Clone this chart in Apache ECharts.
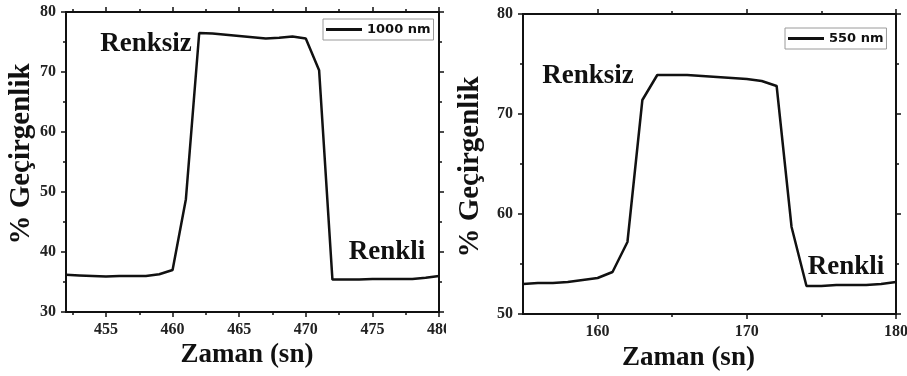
<!DOCTYPE html>
<html>
<head>
<meta charset="utf-8">
<script src="https://cdn.jsdelivr.net/npm/echarts@6/dist/echarts.min.js"></script>
<style>
  html, body { margin: 0; padding: 0; background: #fff; }
  #left  { position: absolute; left: 0;     top: 0; width: 446px; height: 376px; overflow: hidden; }
  #right { position: absolute; left: 446px; top: 0; width: 461px; height: 376px; overflow: hidden; }
</style>
</head>
<body>
<div id="left"></div>
<div id="right"></div>
<script>
// Switching response at 1000 nm
const timeA  = [452, 453, 454, 455, 456, 457, 458, 459, 460, 461, 462, 463, 464, 465, 466,
                467, 468, 469, 470, 471, 472, 473, 474, 475, 476, 477, 478, 479, 480];
const transA = [36.2, 36.1, 36.0, 35.9, 36.0, 36.0, 36.0, 36.3, 37.0, 48.8, 76.5, 76.4, 76.2, 76.0, 75.8,
                75.6, 75.7, 75.9, 75.6, 70.3, 35.4, 35.4, 35.4, 35.5, 35.5, 35.5, 35.5, 35.7, 36.0];
const xMajorA = [455, 460, 465, 470, 475, 480];
const xMinorA = [452.5, 457.5, 462.5, 467.5, 472.5, 477.5];

// Switching response at 550 nm
const timeB  = [155, 156, 157, 158, 159, 160, 161, 162, 163, 164, 165, 166, 167,
                168, 169, 170, 171, 172, 173, 174, 175, 176, 177, 178, 179, 180];
const transB = [53.0, 53.1, 53.1, 53.2, 53.4, 53.6, 54.2, 57.2, 71.4, 73.9, 73.9, 73.9, 73.8,
                73.7, 73.6, 73.5, 73.3, 72.8, 58.7, 52.8, 52.8, 52.9, 52.9, 52.9, 53.0, 53.2];
const xMajorB = [160, 170, 180];
const xMinorB = [165, 175];

const xTitle = 'Zaman (sn)';
const yTitle = '% Geçirgenlik';
const bleachedLabel = 'Renksiz';
const colouredLabel = 'Renkli';

const SERIF = "'Times New Roman', 'Liberation Serif', serif";
const SANS = "'DejaVu Sans', sans-serif";
const INK = '#111';

function buildOption(p) {
  const rect = {
    left: p.grid[0], top: p.grid[1], width: p.grid[2], height: p.grid[3],
    outerBoundsMode: 'none', containLabel: false
  };
  const axisLine = { show: true, onZero: false, lineStyle: { color: INK, width: 2 } };
  const tick = (len, values) => ({
    show: true, inside: false, length: len, customValues: values,
    lineStyle: { color: INK, width: 1.5 }
  });
  const tickLabel = { color: '#222', fontFamily: SERIF, fontWeight: 'bold', fontSize: 16 };
  const titleText = { color: INK, fontFamily: SERIF, fontWeight: 'bold', fontSize: 27 };
  const xBase = { type: 'value', min: p.xMin, max: p.xMax, splitLine: { show: false } };
  const yBase = { type: 'value', min: p.yMin, max: p.yMax, interval: 10, splitLine: { show: false } };
  const yTicks = {
    axisTick: { show: true, inside: false, length: 5, lineStyle: { color: INK, width: 1.5 } },
    minorTick: { show: true, splitNumber: 2, length: 3, lineStyle: { color: INK, width: 1.5 } }
  };

  return {
    animation: false,
    backgroundColor: '#fff',
    grid: [Object.assign({}, rect), Object.assign({}, rect)],
    xAxis: [
      Object.assign({}, xBase, {
        gridIndex: 0, position: 'bottom', axisLine,
        axisTick: tick(5, p.xMajor),
        axisLabel: Object.assign({ customValues: p.xMajor, margin: 10 }, tickLabel),
        name: xTitle, nameLocation: 'middle', nameGap: p.xNameGap, nameMoveOverlap: false,
        nameTextStyle: Object.assign({ padding: p.xNamePad }, titleText)
      }),
      Object.assign({}, xBase, {
        gridIndex: 0, position: 'top', axisLine,
        axisTick: tick(5, p.xMajor), axisLabel: { show: false }
      }),
      // minor ticks on a twin grid
      Object.assign({}, xBase, {
        gridIndex: 1, position: 'bottom', axisLine: { show: false },
        axisTick: tick(3, p.xMinor), axisLabel: { show: false }
      }),
      Object.assign({}, xBase, {
        gridIndex: 1, position: 'top', axisLine: { show: false },
        axisTick: tick(3, p.xMinor), axisLabel: { show: false }
      })
    ],
    yAxis: [
      Object.assign({}, yBase, yTicks, {
        gridIndex: 0, position: 'left', axisLine,
        axisLabel: Object.assign({ margin: 10 }, tickLabel),
        name: yTitle, nameLocation: 'middle', nameGap: p.yNameGap, nameMoveOverlap: false,
        nameTextStyle: Object.assign({ padding: p.yNamePad }, titleText, { fontSize: 29 })
      }),
      Object.assign({}, yBase, yTicks, {
        gridIndex: 0, position: 'right', axisLine, axisLabel: { show: false }
      }),
      Object.assign({}, yBase, { gridIndex: 1, show: false })
    ],
    legend: {
      data: [p.name], left: p.legend[0], top: p.legend[1],
      icon: 'rect', itemWidth: 36, itemHeight: 3,
      padding: [4, 3, 4, 3],
      borderColor: '#9a9a9a', borderWidth: 1,
      textStyle: { fontFamily: SANS, fontWeight: 'bold', fontSize: 13, color: INK }
    },
    graphic: [
      { type: 'text', x: p.bleached[0], y: p.bleached[1], silent: true,
        style: { text: bleachedLabel, font: 'bold 27px ' + SERIF, fill: INK, align: 'center', verticalAlign: 'middle' } },
      { type: 'text', x: p.coloured[0], y: p.coloured[1], silent: true,
        style: { text: colouredLabel, font: 'bold 27px ' + SERIF, fill: INK, align: 'center', verticalAlign: 'middle' } }
    ],
    series: [{
      name: p.name, type: 'line', xAxisIndex: 0, yAxisIndex: 0,
      data: p.time.map((t, i) => [t, p.values[i]]),
      symbol: 'none', smooth: false,
      itemStyle: { color: INK },
      lineStyle: { color: INK, width: 2.5 }
    }]
  };
}

const chartA = echarts.init(document.getElementById('left'), null, { renderer: 'canvas' });
chartA.setOption(buildOption({
  name: '1000 nm', time: timeA, values: transA,
  xMin: 452, xMax: 480, yMin: 30, yMax: 80,
  xMajor: xMajorA, xMinor: xMinorA,
  grid: [66, 12, 373, 300],
  xNameGap: 30, xNamePad: [0, 11, 0, 0],
  yNameGap: 30, yNamePad: [0, 0, 0, 16],
  legend: [323, 19],
  bleached: [146, 44], coloured: [387, 252]
}));

const chartB = echarts.init(document.getElementById('right'), null, { renderer: 'canvas' });
chartB.setOption(buildOption({
  name: '550 nm', time: timeB, values: transB,
  xMin: 155, xMax: 180, yMin: 50, yMax: 80,
  xMajor: xMajorB, xMinor: xMinorB,
  grid: [77, 14, 373, 300],
  xNameGap: 31, xNamePad: [0, 42, 0, 0],
  yNameGap: 38, yNamePad: [0, 6, 0, 0],
  legend: [339, 28],
  bleached: [142, 76], coloured: [400, 267]
}));
</script>
</body>
</html>
